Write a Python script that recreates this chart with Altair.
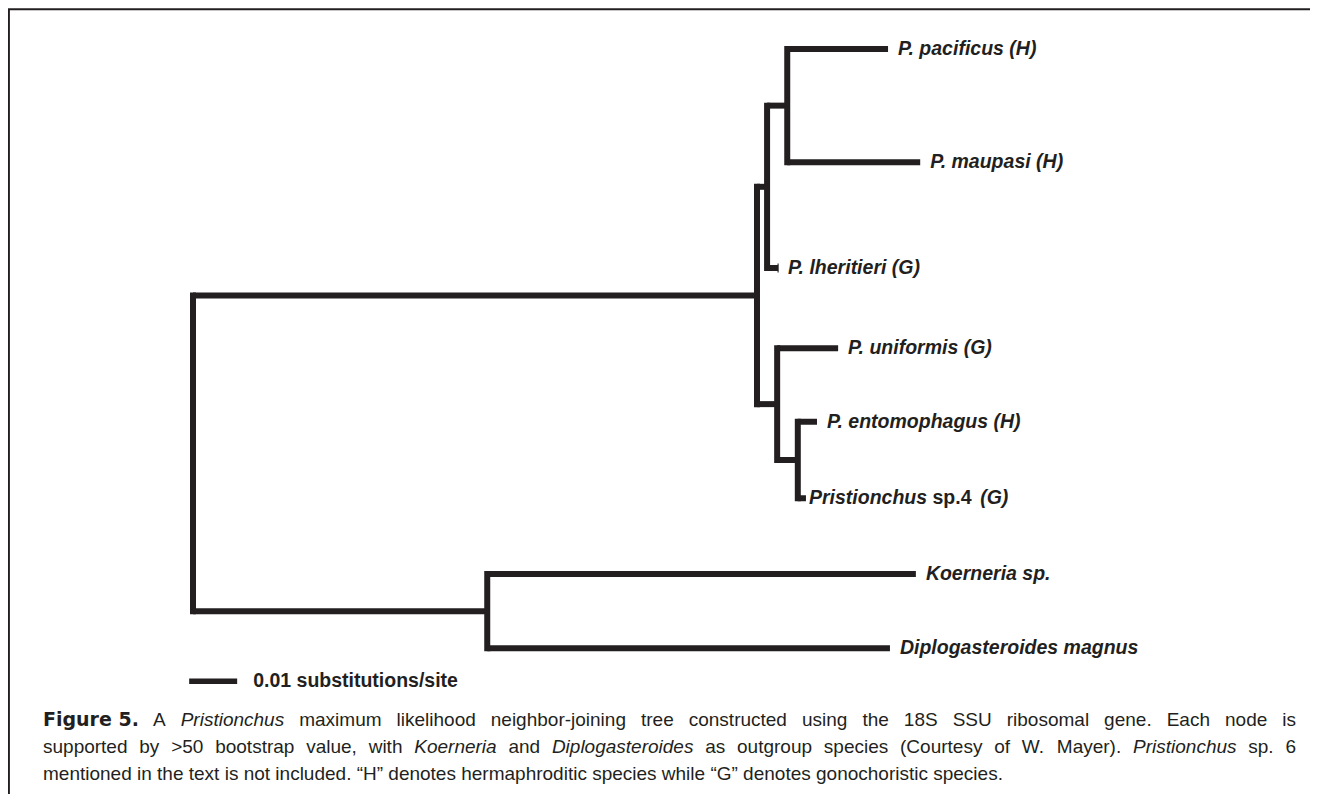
import altair as alt
import pandas as pd

# ---------------- data ----------------
# tree topology: node, parent, depth from root (substitutions/site)
node_name = ["root", "clade_P", "clade_up", "clade_pm", "P. pacificus (H)", "P. maupasi (H)",
             "P. lheritieri (G)", "clade_low", "P. uniformis (G)", "clade_es",
             "P. entomophagus (H)", "Pristionchus sp.4 (G)", "clade_out", "Koerneria sp.",
             "Diplogasteroides magnus"]
node_parent = ["", "root", "clade_P", "clade_up", "clade_pm", "clade_pm",
               "clade_up", "clade_P", "clade_low", "clade_low",
               "clade_es", "clade_es", "root", "clade_out", "clade_out"]
node_depth = [0.0, 0.1175, 0.1196, 0.1238, 0.1448, 0.1515,
              0.1219, 0.1217, 0.1344, 0.1260,
              0.1300, 0.1277, 0.0613, 0.1506, 0.1452]

# leaves in drawing order and their vertical positions (rows)
leaf_name = ["P. pacificus (H)", "P. maupasi (H)", "P. lheritieri (G)", "P. uniformis (G)",
             "P. entomophagus (H)", "Pristionchus sp.4 (G)", "Koerneria sp.", "Diplogasteroides magnus"]
leaf_row = [0.0, 1.51, 2.92, 3.99, 4.97, 5.99, 7.0, 7.99]

# composite label (mixed italic / upright), words separated by one space
composite_label = "Pristionchus sp.4 (G)"
composite_parts = [("Pristionchus", "italic"), ("sp.4", "normal"), ("(G)", "italic")]
tick_leaf = ["P. lheritieri (G)"]

scale_bar_start = [-0.0008]
scale_bar_length = [0.01]
scale_bar_row = [8.43]
scale_bar_label = ["0.01 substitutions/site"]

caption_lead = "Figure 5."
caption_segments = [
    [(" A ", "n"), ("Pristionchus", "i"),
     (" maximum likelihood neighbor-joining tree constructed using the 18S SSU ribosomal gene. Each node is", "n")],
    [("supported by >50 bootstrap value, with ", "n"), ("Koerneria", "i"), (" and ", "n"),
     ("Diplogasteroides", "i"), (" as outgroup species (Courtesy of W. Mayer). ", "n"),
     ("Pristionchus", "i"), (" sp. 6", "n")],
    [("mentioned in the text is not included. \u201cH\u201d denotes hermaphroditic species while \u201cG\u201d denotes gonochoristic species.", "n")],
]
caption_justify = [True, True, False]

# ---------------- layout / style ----------------
W, H = 1302, 786
PX_PER_UNIT = 4800.0
ROOT_PX = 185.0
X_D0 = -ROOT_PX / PX_PER_UNIT
X_D1 = X_D0 + W / PX_PER_UNIT
PX_PER_ROW = 75.0
ROW0_PX = 41.0
Y_D0 = -ROW0_PX / PX_PER_ROW
Y_D1 = Y_D0 + H / PX_PER_ROW
INK = "#231f20"
FONT = "Liberation Sans"
LABEL_SIZE = 19.5
CAP_SIZE = 19

XS = alt.Scale(domain=[X_D0, X_D1], nice=False, zero=False)
YS = alt.Scale(domain=[Y_D0, Y_D1], nice=False, zero=False, reverse=True)

REG = {' ': 278, '(': 333, ')': 333, ',': 278, '-': 333, '.': 278, '/': 278, '>': 584,
       '\u201c': 333, '\u201d': 333}
for c in "0123456789":
    REG[c] = 556
REG.update(dict(zip("ABCDEFGHIJKLMNOPQRSTUVWXYZ",
                    [667, 667, 722, 722, 667, 611, 778, 722, 278, 500, 667, 556, 833, 722, 778, 667,
                     778, 722, 667, 611, 722, 667, 944, 667, 667, 611])))
REG.update(dict(zip("abcdefghijklmnopqrstuvwxyz",
                    [556, 556, 500, 556, 556, 278, 556, 556, 222, 222, 500, 222, 833, 556, 556, 556,
                     556, 333, 500, 278, 556, 500, 722, 500, 500, 500])))
BOLD = {' ': 278, '(': 333, ')': 333, ',': 278, '-': 333, '.': 278, '/': 278, '>': 584}
for c in "0123456789":
    BOLD[c] = 556
BOLD.update(dict(zip("ABCDEFGHIJKLMNOPQRSTUVWXYZ",
                     [722, 722, 722, 722, 667, 611, 778, 722, 278, 556, 722, 611, 833, 722, 778, 667,
                      778, 722, 667, 611, 722, 667, 944, 667, 667, 611])))
BOLD.update(dict(zip("abcdefghijklmnopqrstuvwxyz",
                     [556, 611, 556, 611, 556, 333, 611, 611, 278, 278, 556, 278, 889, 611, 611, 611,
                      611, 389, 556, 333, 611, 556, 778, 556, 556, 500])))


def tw(s, table, size):
    return sum(table.get(c, 556) for c in s) / 1000.0 * size


# ---------------- tree geometry ----------------
depth = dict(zip(node_name, node_depth))
parent = dict(zip(node_name, node_parent))
children = {}
for n in node_name:
    if parent[n]:
        children.setdefault(parent[n], []).append(n)
ypos = dict(zip(leaf_name, leaf_row))


def gety(n):
    if n in ypos:
        return ypos[n]
    ys = [gety(c) for c in children[n]]
    ypos[n] = (min(ys) + max(ys)) / 2.0
    return ypos[n]


gety("root")

hdf = pd.DataFrame([{"x": depth[parent[n]], "x2": depth[n], "y": ypos[n]}
                    for n in node_name if parent[n]])
vdf = pd.DataFrame([{"x": depth[n], "y": min(ypos[c] for c in ch), "y2": max(ypos[c] for c in ch)}
                    for n, ch in children.items()])
leaf_df = pd.DataFrame({"name": leaf_name, "x": [depth[n] for n in leaf_name], "y": leaf_row})

h_layer = alt.Chart(hdf).mark_rule(strokeWidth=6, strokeCap="butt", color=INK).encode(
    x=alt.X("x:Q", scale=XS, axis=None), x2="x2:Q", y=alt.Y("y:Q", scale=YS, axis=None))
v_layer = alt.Chart(vdf).mark_rule(strokeWidth=6, strokeCap="square", color=INK).encode(
    x=alt.X("x:Q", scale=XS, axis=None), y=alt.Y("y:Q", scale=YS, axis=None), y2="y2:Q")

tick_df = leaf_df[leaf_df["name"].isin(tick_leaf)]
tick_layer = alt.Chart(tick_df).mark_tick(orient="vertical", size=9, thickness=1.6, color=INK).encode(
    x=alt.X("x:Q", scale=XS, axis=None), y=alt.Y("y:Q", scale=YS, axis=None))

plain_df = leaf_df[leaf_df["name"] != composite_label]
label_layer = alt.Chart(plain_df).mark_text(
    align="left", baseline="middle", dx=10, font=FONT, fontSize=LABEL_SIZE,
    fontWeight="bold", fontStyle="italic", color=INK).encode(
    x=alt.X("x:Q", scale=XS, axis=None), y=alt.Y("y:Q", scale=YS, axis=None), text="name:N")

comp_df = leaf_df[leaf_df["name"] == composite_label]
comp_layers = []
off = 3.0
space_w = tw(" ", BOLD, LABEL_SIZE)
for i, (txt, st) in enumerate(composite_parts):
    d = comp_df.assign(part=txt)
    comp_layers.append(alt.Chart(d).mark_text(
        align="left", baseline="middle", dx=off, font=FONT, fontSize=LABEL_SIZE,
        fontWeight="bold", fontStyle=st, color=INK).encode(
        x=alt.X("x:Q", scale=XS, axis=None), y=alt.Y("y:Q", scale=YS, axis=None), text="part:N"))
    off += tw(txt, BOLD, LABEL_SIZE) + space_w * (1.0 if i == 0 else 1.6)

sb_df = pd.DataFrame({"x": scale_bar_start,
                      "x2": [a + b for a, b in zip(scale_bar_start, scale_bar_length)],
                      "y": scale_bar_row, "label": scale_bar_label})
sb_layer = alt.Chart(sb_df).mark_rule(strokeWidth=5.5, color=INK).encode(
    x=alt.X("x:Q", scale=XS, axis=None), x2="x2:Q", y=alt.Y("y:Q", scale=YS, axis=None))
sb_text = alt.Chart(sb_df).mark_text(
    align="left", baseline="middle", dx=16, font=FONT, fontSize=LABEL_SIZE, fontWeight="bold",
    color=INK).encode(x=alt.X("x2:Q", scale=XS, axis=None), y=alt.Y("y:Q", scale=YS, axis=None),
                      text="label:N")

# ---------------- caption (pixel layout) ----------------
line_start = [145.0, 35.0, 35.0]
line_end = [1288.0, 1288.0, None]
line_base = [718.0, 745.0, 772.0]
rows = [{"px": 35.0, "py": line_base[0], "w": caption_lead, "s": "f"}]
for li, segs in enumerate(caption_segments):
    toks = [(w, st) for txt, st in segs for w in txt.split(" ") if w]
    widths = [tw(w, REG, CAP_SIZE) for w, _ in toks]
    if caption_justify[li]:
        gap = (line_end[li] - line_start[li] - sum(widths)) / (len(toks) - 1)
    else:
        gap = tw(" ", REG, CAP_SIZE)
    x = line_start[li]
    for (w, st), wd in zip(toks, widths):
        rows.append({"px": x, "py": line_base[li], "w": w, "s": st})
        x += wd + gap
cap_df = pd.DataFrame(rows)

cap_layers = []
for st, kw in [("n", dict(font=FONT)), ("i", dict(font=FONT, fontStyle="italic")),
               ("f", dict(font="DejaVu Sans", fontWeight="bold"))]:
    cap_layers.append(alt.Chart(cap_df[cap_df["s"] == st]).mark_text(
        align="left", baseline="alphabetic", fontSize=CAP_SIZE, color=INK, **kw).encode(
        x=alt.X("px:Q", scale=None, axis=None), y=alt.Y("py:Q", scale=None, axis=None), text="w:N"))

border_df = pd.DataFrame({"px": [0.0, 0.9], "px2": [float(W), 0.9], "py": [1.3, 1.3], "py2": [1.3, float(H)]})
border_layer = alt.Chart(border_df).mark_rule(strokeWidth=2, color=INK).encode(
    x=alt.X("px:Q", scale=None, axis=None), x2="px2:Q",
    y=alt.Y("py:Q", scale=None, axis=None), y2="py2:Q")

chart = alt.layer(
    h_layer, v_layer, tick_layer, label_layer, *comp_layers, sb_layer, sb_text,
    *cap_layers, border_layer
).resolve_scale(x="independent", y="independent").properties(
    width=W, height=H, autosize=alt.AutoSizeParams(type="none"), padding=0,
    background="white"
).configure_view(stroke=None)

chart.save("out.html", embed_options={"renderer": "svg", "actions": False})
